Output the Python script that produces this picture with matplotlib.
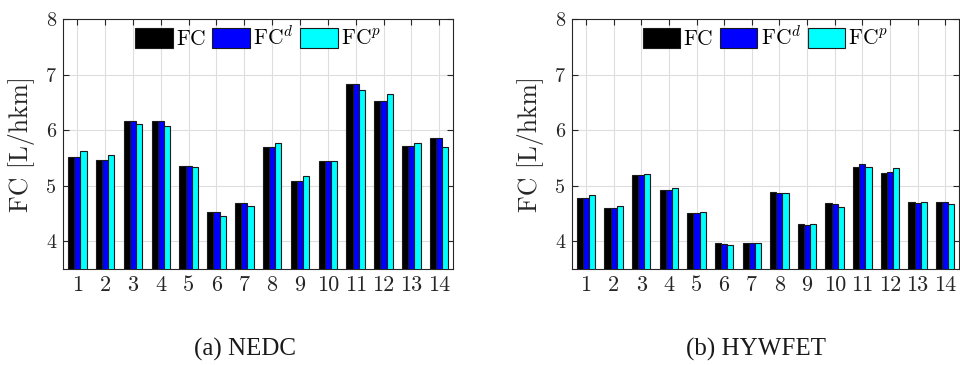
import numpy as np
import matplotlib
matplotlib.use("Agg")
import matplotlib.pyplot as plt

plt.rcParams["font.family"] = ["cmr10", "DejaVu Serif"]
plt.rcParams["mathtext.fontset"] = "cm"

# Drive-cycle index (1..14)
cycles = list(range(1, 15))
series_labels = ["FC", r"FC$^d$", r"FC$^p$"]
series_colors = ["#000000", "#0000ff", "#00ffff"]

# Fuel consumption [L/hkm], NEDC
nedc_fc   = [5.51, 5.47, 6.17, 6.16, 5.35, 4.53, 4.69, 5.70, 5.09, 5.45, 6.83, 6.52, 5.72, 5.86]
nedc_fc_d = [5.51, 5.46, 6.17, 6.16, 5.35, 4.53, 4.69, 5.70, 5.09, 5.45, 6.83, 6.52, 5.71, 5.86]
nedc_fc_p = [5.62, 5.56, 6.11, 6.07, 5.34, 4.46, 4.63, 5.77, 5.17, 5.45, 6.72, 6.65, 5.77, 5.70]

# Fuel consumption [L/hkm], HYWFET
hyw_fc   = [4.78, 4.59, 5.19, 4.93, 4.50, 3.96, 3.96, 4.88, 4.31, 4.68, 5.34, 5.22, 4.71, 4.70]
hyw_fc_d = [4.78, 4.59, 5.19, 4.93, 4.50, 3.95, 3.96, 4.87, 4.30, 4.67, 5.39, 5.24, 4.69, 4.70]
hyw_fc_p = [4.83, 4.63, 5.21, 4.95, 4.52, 3.94, 3.97, 4.87, 4.31, 4.62, 5.33, 5.31, 4.71, 4.67]

y_ticks = [4, 5, 6, 7, 8]
captions = ["(a) NEDC", "(b) HYWFET"]

fig = plt.figure(figsize=(9.6, 3.65), dpi=100)
ax_a = fig.add_axes([0.066, 0.263, 0.406, 0.685])
ax_b = fig.add_axes([0.596, 0.263, 0.403, 0.685])

bar_w = 0.222
offsets = [-bar_w, 0.0, bar_w]
x = np.array(cycles, dtype=float)


def draw_panel(ax, groups):
    handles = []
    for vals, off, col, lab in zip(groups, offsets, series_colors, series_labels):
        h = ax.bar(x + off, vals, width=bar_w, color=col, edgecolor="#1a1a1a",
                   linewidth=0.8, label=lab, zorder=3)
        handles.append(h)
    ax.set_xlim(0.5, 14.5)
    ax.set_ylim(3.5, 8)
    ax.set_xticks(cycles)
    ax.set_xticklabels([str(c) for c in cycles])
    ax.set_yticks(y_ticks)
    ax.set_yticklabels([str(t) for t in y_ticks])
    ax.tick_params(axis="x", labelsize=16, pad=5)
    ax.tick_params(axis="y", labelsize=14.5, pad=5)
    ax.tick_params(direction="in", length=4, width=0.8, top=True, right=True,
                   color="#262626", labelcolor="#262626")
    ax.grid(True, color="#dedede", linewidth=0.8, zorder=0)
    ax.set_axisbelow(True)
    for s in ax.spines.values():
        s.set_color("#262626")
        s.set_linewidth(0.8)
    ax.set_ylabel("FC [L/hkm]", fontsize=18.5, color="#262626")
    ax.yaxis.set_label_coords(-0.072, 0.5)
    ax.legend(handles=handles, loc="upper center", ncol=3, frameon=False,
              fontsize=15.5, handlelength=1.75, handleheight=1.05,
              handletextpad=0.15, columnspacing=0.3,
              borderaxespad=0.1, borderpad=0.2)


draw_panel(ax_a, [nedc_fc, nedc_fc_d, nedc_fc_p])
draw_panel(ax_b, [hyw_fc, hyw_fc_d, hyw_fc_p])

fig.text(245 / 960, 0.042, captions[0], ha="center", va="center",
         fontsize=18, family="Liberation Serif", color="#1a1a1a")
fig.text(756 / 960, 0.042, captions[1], ha="center", va="center",
         fontsize=18, family="Liberation Serif", color="#1a1a1a")

fig.savefig("out.png", dpi=100)
